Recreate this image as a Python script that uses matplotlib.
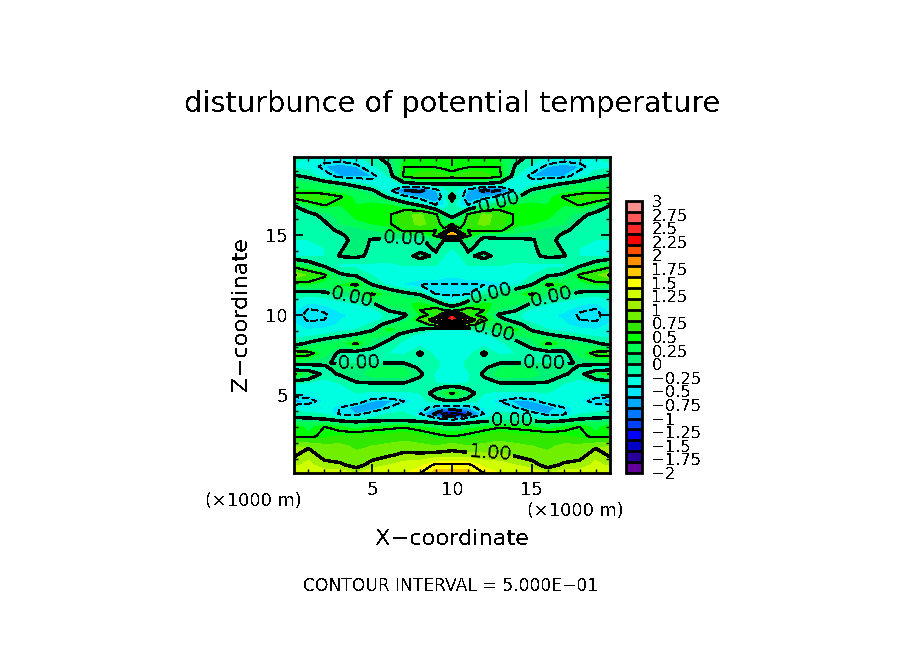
import numpy as np
import matplotlib
matplotlib.use('Agg')
import matplotlib.pyplot as plt
from matplotlib.colors import ListedColormap, BoundaryNorm

plt.rcParams['text.antialiased'] = False
plt.rcParams['font.family'] = ['DejaVu Sans']

x_half = [0, 1, 2, 3, 4, 5, 6, 7, 8, 9, 9.5, 10]
z_rows = [0.1, 0.6, 1.2, 1.8, 2.4, 3.0, 3.5, 3.8, 4.2, 4.6, 5.1, 5.7, 6.3, 6.7, 7.0, 7.6, 8.2, 8.8, 9.1, 9.4, 9.7,
          10.0, 10.3, 10.7, 11.3, 11.9, 12.5, 13.1, 13.7, 14.2, 14.7, 15.0, 15.3, 15.7, 16.3, 16.9, 17.4, 17.8,
          18.2, 18.7, 19.3, 19.9]
theta_half = [
    [1.35, 1.35, 1.30, 1.30, 1.20, 1.35, 1.35, 1.40, 1.50, 1.65, 1.65, 1.65],
    [1.15, 1.25, 1.10, 1.05, 0.90, 1.10, 1.20, 1.30, 1.35, 1.55, 1.55, 1.55],
    [0.95, 1.15, 0.90, 0.85, 0.85, 0.90, 0.98, 1.05, 1.05, 1.10, 1.10, 1.10],
    [1.00, 0.95, 0.85, 0.85, 0.75, 0.80, 0.85, 0.90, 0.85, 0.80, 0.85, 0.90],
    [0.48, 0.45, 0.55, 0.62, 0.65, 0.65, 0.65, 0.70, 0.65, 0.55, 0.52, 0.50],
    [0.50, 0.35, 0.50, 0.40, 0.30, 0.40, 0.45, 0.48, 0.40, 0.35, 0.30, 0.30],
    [0.03, 0.03, -0.02, -0.15, -0.20, -0.15, -0.15, -0.15, -0.20, -0.40, -0.55, -0.60],
    [-0.10, -0.15, -0.20, -0.55, -0.60, -0.35, -0.20, -0.15, -0.50, -1.10, -1.60, -1.70],
    [-0.35, -0.35, -0.30, -0.50, -0.70, -0.80, -0.50, -0.30, -0.40, -0.60, -0.60, -0.60],
    [-0.70, -0.60, -0.40, -0.30, -0.35, -0.60, -0.65, -0.50, -0.30, -0.10, -0.05, -0.05],
    [-0.30, -0.35, -0.35, -0.30, -0.20, -0.25, -0.25, -0.25, -0.20, 0.15, 0.35, 0.55],
    [-0.20, -0.25, -0.30, -0.20, -0.02, -0.02, -0.02, -0.02, -0.10, -0.20, -0.20, -0.25],
    [0.55, 0.30, -0.10, 0.03, 0.10, 0.30, 0.35, 0.30, 0.05, -0.25, -0.30, -0.35],
    [-0.30, -0.25, -0.02, 0.05, 0.10, 0.20, 0.25, 0.20, -0.05, -0.15, -0.30, -0.35],
    [0.20, 0.15, 0.02, -0.03, -0.01, -0.01, -0.01, -0.01, -0.15, -0.10, -0.30, -0.35],
    [0.65, 0.60, 0.30, -0.10, -0.15, -0.15, -0.20, -0.25, 0.05, -0.30, -0.30, -0.30],
    [-0.10, 0.05, 0.20, 0.30, 0.55, 0.15, -0.10, -0.25, -0.30, -0.30, -0.30, -0.30],
    [-0.25, -0.30, -0.20, -0.10, 0.00, 0.25, 0.20, -0.10, -0.25, -0.30, -0.30, -0.30],
    [-0.35, -0.40, -0.38, -0.30, -0.20, -0.08, 0.50, 0.25, -0.02, -0.20, -0.20, -0.20],
    [-0.38, -0.45, -0.45, -0.38, -0.30, -0.15, 0.10, 0.35, 0.25, 0.70, 0.90, 1.00],
    [-0.40, -0.52, -0.50, -0.40, -0.38, -0.30, -0.12, 0.10, 0.60, 1.30, 2.00, 2.50],
    [-0.40, -0.55, -0.52, -0.42, -0.38, -0.35, -0.15, -0.05, 0.40, 0.60, 1.30, 2.40],
    [-0.35, -0.52, -0.48, -0.38, -0.35, -0.30, 0.02, 0.15, 0.50, 0.70, 0.50, 0.30],
    [-0.30, -0.42, -0.38, -0.32, -0.20, -0.05, 0.25, 0.35, 0.45, 0.20, -0.05, -0.20],
    [-0.10, -0.15, -0.10, 0.10, 0.10, 0.55, 0.30, 0.10, -0.02, -0.50, -0.52, -0.55],
    [0.30, 0.40, 0.30, 0.40, 0.55, 0.00, -0.25, -0.42, -0.50, -0.52, -0.52, -0.52],
    [1.05, 0.75, 0.55, 0.05, -0.05, -0.20, -0.30, -0.30, -0.30, -0.30, -0.35, -0.35],
    [0.40, 0.20, -0.05, -0.25, -0.25, -0.25, -0.25, -0.20, -0.20, -0.20, -0.25, -0.30],
    [-0.20, -0.25, -0.20, 0.02, 0.05, -0.05, -0.10, -0.10, 0.08, -0.05, -0.20, -0.25],
    [-0.25, -0.25, -0.20, -0.03, 0.12, -0.05, -0.10, -0.15, -0.10, 0.05, -0.15, -0.20],
    [-0.20, -0.20, -0.20, -0.10, 0.10, -0.02, -0.05, -0.05, -0.05, 0.15, 0.00, 0.00],
    [-0.20, -0.20, -0.15, -0.05, 0.15, 0.10, 0.10, 0.10, 0.05, 0.60, 1.60, 1.90],
    [-0.20, -0.20, -0.10, 0.05, 0.05, 0.20, 0.30, 0.55, 0.60, 0.50, 0.60, 1.60],
    [-0.20, -0.15, -0.05, 0.20, 0.35, 0.40, 0.45, 0.70, 0.85, 0.70, 0.30, 0.50],
    [-0.15, -0.10, 0.10, 0.30, 0.45, 0.45, 0.45, 0.75, 0.85, 0.55, 0.05, -0.20],
    [0.00, 0.35, 0.52, 0.40, 0.40, 0.45, 0.40, 0.20, -0.05, -0.50, -0.40, -0.10],
    [0.62, 0.70, 0.65, 0.52, 0.35, 0.25, -0.05, -0.40, -0.65, -0.80, -0.30, 0.12],
    [0.40, 0.40, 0.35, 0.30, 0.20, 0.05, -0.40, -1.00, -1.10, -0.60, -0.30, -0.15],
    [0.30, 0.25, 0.20, 0.05, -0.10, -0.30, -0.35, -0.15, -0.05, -0.02, -0.02, -0.02],
    [0.05, -0.05, -0.35, -0.60, -0.65, -0.60, -0.20, 0.55, 0.70, 0.70, 0.65, 0.60],
    [-0.25, -0.30, -0.60, -0.70, -0.60, -0.25, -0.05, 0.50, 0.48, 0.48, 0.45, 0.40],
    [-0.10, -0.20, -0.30, -0.30, -0.20, -0.10, 0.15, 0.35, 0.42, 0.45, 0.45, 0.45],
]
band_colors = ['#64009b', '#28009b', '#0000c8', '#0000ff', '#0040ff', '#0078ff', '#00a8ff', '#00e6ff',
               '#00ffe0', '#00ffaa', '#00f078', '#00ff50', '#00ff00', '#30e800', '#70f000', '#a0f000',
               '#d0ff00', '#ffff00', '#ffc800', '#ff9000', '#ff5000', '#ff0000', '#ff2828', '#ff5858', '#ff9090']
bar_labels = ['-2', '-1.75', '-1.5', '-1.25', '-1', '-0.75', '-0.5', '-0.25', '0', '0.25', '0.5', '0.75',
              '1', '1.25', '1.5', '1.75', '2', '2.25', '2.5', '2.75', '3']
bar_ticks = [float(s) for s in bar_labels]
zero_label_pos = [(7, 14.95), (12.9, 17.2), (3.75, 11.06), (12.5, 11.2), (16.25, 11.2), (12.6, 8.9),
                  (4.2, 6.98), (15.8, 6.98), (13.75, 3.3)]
one_label_pos = [(12.4, 1.4)]

half = np.array(theta_half)
x = np.concatenate([x_half, 20 - np.array(x_half[-2::-1])])
theta = np.hstack([half, half[:, -2::-1]])
z = np.array(z_rows)

W, H = 904, 654
fig = plt.figure(figsize=(W / 100, H / 100), dpi=100)
ax = fig.add_axes([294 / W, 1 - 473 / H, 316 / W, 316 / H])
fill_levels = np.arange(-2, 3.01, 0.2)
cmap = ListedColormap(band_colors)
norm = BoundaryNorm(fill_levels, cmap.N)
cf = ax.contourf(x, z, theta, levels=fill_levels, cmap=cmap, norm=norm)
for lev, lw in [(-1.5, .8), (-1, 1.5), (-.5, .8), (.5, .8), (1.5, .8), (2.5, .8), (2, 1.5)]:
    ax.contour(x, z, theta, levels=[lev], colors='k', linewidths=lw,
               linestyles=[(0, (6, 3))] if lev < 0 else ['solid'], antialiased=False)
cs0 = ax.contour(x, z, theta, levels=[0], colors='k', linewidths=1.7, linestyles='solid', antialiased=False)
cs1 = ax.contour(x, z, theta, levels=[1], colors='k', linewidths=1.7, linestyles='solid', antialiased=False)
for cs, pos in [(cs0, zero_label_pos), (cs1, one_label_pos)]:
    for t in ax.clabel(cs, manual=pos, fmt='%.2f', fontsize=14, inline=True, inline_spacing=2):
        t.set_color('k')

ax.set_xlim(0.1, 19.9)
ax.set_ylim(0.1, 19.9)
ax.set_xticks([5, 10, 15])
ax.set_yticks([5, 10, 15])
ax.set_xticks(np.arange(1, 20), minor=True)
ax.set_yticks(np.arange(1, 20), minor=True)
ax.tick_params(which='major', direction='in', length=6.5, width=1.3, top=True, right=True, labelsize=13)
ax.tick_params(which='minor', direction='in', length=3, width=1, top=True, right=True)
ax.tick_params(axis='x', which='major', pad=6)
ax.tick_params(axis='y', which='major', pad=4.5)
for s in ax.spines.values():
    s.set_linewidth(2)

cax = fig.add_axes([626 / W, 1 - 473 / H, 16 / W, 272 / H])
cb = fig.colorbar(cf, cax=cax, drawedges=True, spacing='proportional')
cb.set_ticks(bar_ticks)
cb.set_ticklabels([s.replace('-', '\u2212') for s in bar_labels])
cb.ax.tick_params(length=0, labelsize=11.8, pad=7)
cb.ax.minorticks_off()
cb.dividers.set_linewidth(2)
cb.outline.set_linewidth(2)

def put(px, py, s, **kw):
    fig.text(px / W, 1 - py / H, s, ha='center', va='center', **kw)

put(452, 104, 'disturbunce of potential temperature', fontsize=20.7)
put(452, 539, 'X\u2212coordinate', fontsize=16.2)
put(241, 314, 'Z\u2212coordinate', fontsize=16.2, rotation=90)
put(253, 501, '(\u00d71000 m)', fontsize=12.8)
put(575, 511, '(\u00d71000 m)', fontsize=12.8)
put(451, 586, 'CONTOUR INTERVAL = 5.000E\u221201', fontsize=12.3)

fig.savefig('out.png', dpi=100)
